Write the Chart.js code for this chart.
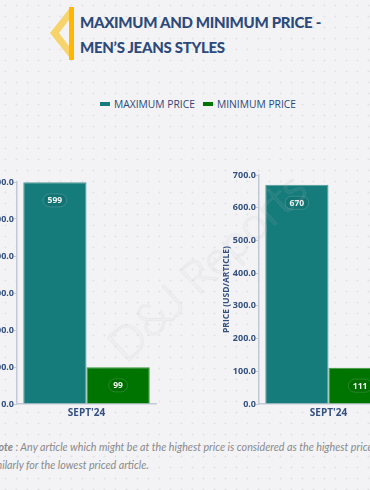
<!DOCTYPE html>
<html>
<head>
    <title>Maximum and Minimum Price - Men's Jeans Styles</title>
    <script src="https://cdn.jsdelivr.net/npm/chart.js"></script>
    <style>
        html, body { margin: 0; padding: 0; }
        body {
            width: 370px; height: 490px; overflow: hidden; position: relative;
            background-color: #f3f3f5;
            background-image: radial-gradient(#e2e2e6 0.8px, transparent 1.2px);
            background-size: 11px 11px;
            font-family: 'Lato', 'Open Sans', sans-serif;
        }
        #title {
            position: absolute; left: 80px; top: 10px;
            font: 900 15px/25px 'Lato', sans-serif; letter-spacing: -0.3px; color: #2d4a7b;
            white-space: nowrap;
        }
        #icon { position: absolute; left: 48px; top: 6px; }
        #legend {
            position: absolute; top: 97px; left: 100px;
            font: 10.3px/14px 'Open Sans', sans-serif; color: #2d4a7b; white-space: nowrap;
        }
        #legend span.box { display: inline-block; width: 10px; height: 4px; margin-right: 4px; vertical-align: 2px; }
        #legend span.item { margin-right: 8px; }
        .chartBox { position: absolute; top: 160px; width: 190px; height: 264px; }
        #leftBox { left: -27px; }
        #rightBox { left: 215px; }
        .note {
            position: absolute; white-space: nowrap;
            font: italic 10.7px 'Lato', sans-serif; color: #8a8a8e;
        }
        #watermark {
            position: absolute; left: 80px; top: 238px; pointer-events: none;
            font: 300 46px 'Lato', sans-serif; color: transparent;
            -webkit-text-stroke: 0.6px rgba(185,185,190,0.32);
            transform: rotate(-43deg); transform-origin: 50% 50%; white-space: nowrap;
        }
    </style>
</head>
<body>
    <svg id="icon" width="28" height="56" viewBox="0 0 28 56">
        <polygon points="21,3 2,27 21,51 21,40 11,27 21,14" fill="#f6d46b"/>
        <rect x="21" y="1" width="5" height="53" fill="#ffb703"/>
    </svg>
    <div id="title">MAXIMUM AND MINIMUM PRICE -<br>MEN’S JEANS STYLES</div>
    <div id="legend"></div>

    <div class="chartBox" id="leftBox"><canvas id="leftChart" width="190" height="264"></canvas></div>
    <div class="chartBox" id="rightBox"><canvas id="rightChart" width="190" height="264"></canvas></div>

    <div class="note" style="left:-9px; top:440px;"><b>Note</b> : Any article which might be at the highest price is considered as the highest price article</div>
    <div class="note" style="left:-14px; top:458px;">Similarly for the lowest priced article.</div>

    <div id="watermark">D&amp;J Reports</div>

    <script>
        // data
        var categories = ["SEPT'24"];
        var seriesNames = ['MAXIMUM PRICE', 'MINIMUM PRICE'];
        var seriesColors = ['#167c7b', '#007400'];
        var seriesBorders = ['#4f9d9c', '#3d963d'];

        var leftMax = [599];
        var leftMin = [99];
        var leftAxisMax = 600;

        var rightMax = [670];
        var rightMin = [111];
        var rightAxisMax = 700;

        var axisTitle = 'PRICE (USD/ARTICLE)';
        var navy = '#34507f';

        // legend above both charts
        var legendHtml = '';
        seriesNames.forEach(function (name, i) {
            legendHtml += '<span class="item"><span class="box" style="background:' + seriesColors[i] + '"></span>' + name + '</span>';
        });
        document.getElementById('legend').innerHTML = legendHtml;

        // value pills drawn inside the bars
        var pillLabels = {
            id: 'pillLabels',
            afterDatasetsDraw: function (chart) {
                var ctx = chart.ctx;
                ctx.save();
                ctx.font = 'bold 8.5px "Open Sans", sans-serif';
                ctx.textAlign = 'center';
                ctx.textBaseline = 'middle';
                chart.data.datasets.forEach(function (ds, di) {
                    chart.getDatasetMeta(di).data.forEach(function (bar, i) {
                        var txt = String(ds.data[i]);
                        var w = ctx.measureText(txt).width + 9;
                        var h = 13;
                        var cx = bar.x, cy = bar.y + 18;
                        ctx.beginPath();
                        ctx.roundRect(cx - w / 2, cy - h / 2, w, h, 6.5);
                        ctx.fillStyle = 'rgba(0,0,0,0.06)';
                        ctx.fill();
                        ctx.strokeStyle = 'rgba(255,255,255,0.15)';
                        ctx.lineWidth = 1;
                        ctx.stroke();
                        ctx.fillStyle = '#eef5f3';
                        ctx.fillText(txt, cx, cy + 0.5);
                    });
                });
                ctx.restore();
            }
        };

        function makeChart(id, maxData, minData, axisMax, padTop) {
            var ctx = document.getElementById(id).getContext('2d');
            return new Chart(ctx, {
                type: 'bar',
                data: {
                    labels: categories,
                    datasets: [
                        { label: seriesNames[0], data: maxData, backgroundColor: seriesColors[0], borderColor: seriesBorders[0], borderWidth: 1 },
                        { label: seriesNames[1], data: minData, backgroundColor: seriesColors[1], borderColor: seriesBorders[1], borderWidth: 1 }
                    ]
                },
                options: {
                    responsive: false,
                    animation: false,
                    devicePixelRatio: 1,
                    categoryPercentage: 0.91,
                    barPercentage: 1,
                    layout: { padding: { top: padTop, right: 7, bottom: 0, left: 0 } },
                    plugins: { legend: { display: false }, tooltip: { enabled: false } },
                    scales: {
                        x: {
                            grid: { drawOnChartArea: false, drawTicks: false },
                            border: { color: '#c3c9d6', width: 1.5 },
                            ticks: { color: navy, padding: 3, font: { family: 'Open Sans', size: 10, weight: 'bold' } },
                            afterFit: function (s) { s.height = 20; }
                        },
                        y: {
                            min: 0,
                            max: axisMax,
                            grid: { drawOnChartArea: false, tickLength: 3, color: '#c3c9d6' },
                            border: { color: '#c3c9d6', width: 1.5 },
                            ticks: {
                                stepSize: 100, padding: 0, color: navy,
                                font: { family: 'Open Sans', size: 9, weight: 'bold' },
                                callback: function (v) { return v.toFixed(1); }
                            },
                            title: {
                                display: true, text: axisTitle, color: navy,
                                font: { family: 'Open Sans', size: 8.5, weight: 'bold' },
                                padding: { top: 6, bottom: 0 }
                            },
                            afterFit: function (s) { s.width = 44; }
                        }
                    }
                },
                plugins: [pillLabels]
            });
        }

        makeChart('leftChart', leftMax, leftMin, leftAxisMax, 22);
        makeChart('rightChart', rightMax, rightMin, rightAxisMax, 15);
    </script>
</body>
</html>
